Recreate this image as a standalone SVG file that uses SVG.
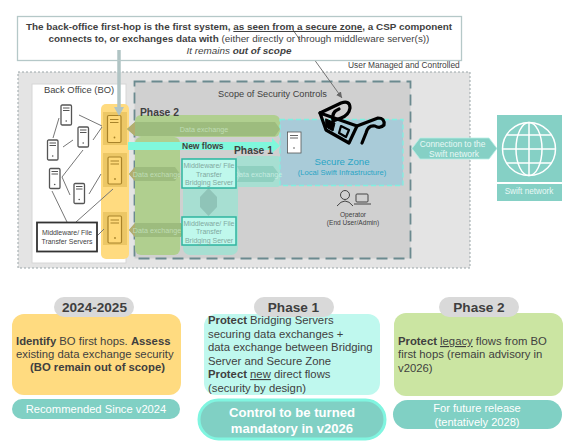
<svg xmlns="http://www.w3.org/2000/svg" width="567" height="447" viewBox="0 0 567 447">
<style>
text{font-family:"Liberation Sans",Arial,sans-serif;fill:#3f3f3f}
.b{font-weight:700}.c{text-anchor:middle}
.srv{fill:#fff;stroke:#555;stroke-width:1.3}
.srvl{stroke:#555;stroke-width:1}
.ysrv{fill:#ffd978;stroke:#a8832a;stroke-width:1.2}
.ysrvl{stroke:#a8832a;stroke-width:1}
.link{stroke:#777;stroke-width:1;fill:none}
.mw{fill:#bff8ec;stroke:#2fb5a0;stroke-width:1.5}
.mwt{fill:#7fa89f;font-size:7px;text-anchor:middle}
.dx2{fill:#bfdcb4;font-size:7.2px;text-anchor:middle}
.card{font-size:11.3px}
.pill{fill:#d9d9d9}
.teal{fill:#80d0c4}
</style>
<defs>
<g id="s"><rect class="srv" x="0" y="0" width="10.5" height="20" rx="1.2"/><path class="srvl" d="M2 3H8.5M2 5.5H8.5"/><circle cx="5.2" cy="16" r=".8" fill="#555"/></g>
<g id="y"><rect class="ysrv" x="0" y="0" width="13.5" height="27" rx="1.2"/><path class="ysrvl" d="M2.5 4H11M2.5 7H11"/><circle cx="7" cy="22" r=".9" fill="#a8832a"/></g>
<marker id="ah" markerWidth="7" markerHeight="7" refX="6" refY="3" orient="auto" markerUnits="userSpaceOnUse"><path d="M0 0L6 3L0 6Z" fill="#666"/></marker>
</defs>
<rect width="567" height="447" fill="#fff"/>

<g id="outer-zone">
<rect x="18" y="72" width="452" height="196" fill="#e4e4e4" stroke="#9aa5a8" stroke-width="1" stroke-dasharray="2 2"/>
<text x="348" y="68" font-size="8.400">User Managed and Controlled</text>
</g>
<g id="back-office">
<rect x="32" y="84" width="94" height="179" fill="#fff" stroke="#d6d6d6"/>
<text x="79" y="93" class="c" font-size="9.400">Back Office (BO)</text>
</g>
<g id="scope">
<rect x="134.500" y="81.500" width="276" height="177" fill="#d0d0d0" stroke="#6b8a8f" stroke-width="1.800" stroke-dasharray="11 6"/>
<text x="272.500" y="97" class="c" font-size="9.200">Scope of Security Controls</text>
</g>
<g id="first-hops">
<rect x="101" y="104" width="28" height="155" rx="5" fill="#ffdb80"/>
<rect x="103" y="112" width="24" height="33" fill="#ecc766"/>
<rect x="103" y="153" width="24" height="34" fill="#ecc766"/>
<rect x="103" y="212" width="24" height="33" fill="#ecc766"/>
<use href="#y" x="107.500" y="115.500"/>
<use href="#y" x="108" y="157"/>
<use href="#y" x="108" y="216"/>
</g>
<g id="phase2-zone">
<rect x="135" y="115" width="145" height="22" rx="6" fill="#b0cf8f"/>
<rect x="135" y="137" width="45" height="118" rx="6" fill="#b0cf8f"/>
<text x="140" y="116" class="b" font-size="10.300">Phase 2</text>
</g>
<g id="phase1-zone">
<rect x="183" y="158" width="55" height="97" rx="7" fill="#a7dfd2"/>
<rect x="236" y="156" width="44" height="31" rx="3" fill="#a7dfd2"/>
<path d="M200 197L208.500 188L217 197V207L208.500 216L200 207Z" fill="#8fc4b8"/>
</g>
<g id="secure-zone">
<rect x="280" y="119.500" width="123" height="66" fill="#a9cbd8" stroke="#80f0e0" stroke-width="1.300" stroke-dasharray="5 3"/>
<rect x="287.500" y="132" width="13.500" height="21" fill="#fff" stroke="#555" stroke-width=".8"/>
<path d="M290 135.500H298M290 138H298" stroke="#555" stroke-width=".9"/><circle cx="294" cy="148" r=".8" fill="#555"/>
<text x="342" y="165" class="c" font-size="9.600" style="fill:#2aa5c5">Secure Zone</text>
<text x="342" y="175" class="c" font-size="7.600" style="fill:#2aa5c5">(Local Swift Infrastructure)</text>
</g>
<g id="connectors">
<path class="link" d="M59 118L53 138M79 115L102 126M93 140L102 127M63 147L73 140M83 150L62 177L70 195M89 194L101 174M52 191L67 222M76 222L113 189M97 236L104 229"/>
<path d="M119 50V108" stroke="#b0c4c4" stroke-width="3.500" fill="none"/>
<path d="M114 107H124L119 116Z" fill="#b0c4c4"/>
<path d="M293 30L342 98" stroke="#666" stroke-width=".9" fill="none" marker-end="url(#ah)"/>
<path d="M127 129L135 122H275L280 129L275 136H135Z" fill="#9dbc7e"/>
<path d="M127 129L135 122V136Z" fill="#b3ad6f"/>
<text x="204" y="132" class="dx2">Data exchange</text>
<path d="M129 174L135 167H175L180 174L175 181H135Z" fill="#9dbc7e"/>
<path d="M129 174L135 167V181Z" fill="#b3ad6f"/>
<text x="157" y="177" class="dx2">Data exchange</text>
<path d="M129 230L135 223H181L186 230L181 237H135Z" fill="#9dbc7e"/>
<path d="M129 230L135 223V237Z" fill="#b3ad6f"/>
<text x="157" y="233" class="dx2">Data exchange</text>
<path d="M237 166H273L279 174L273 182H237L241 174Z" fill="#8fd0c0"/>
<text x="258" y="177" class="dx2" style="fill:#c4ece0">Data exchange</text>
<path d="M128 142H272V138L280 146L272 153V150H128Z" fill="#80f8dc"/>
<text x="182" y="149" class="b" font-size="8.500">New flows</text>
<text x="234" y="154" class="b" font-size="10.300">Phase 1</text>
</g>
<g id="bo-servers">
<use href="#s" x="61" y="105"/>
<use href="#s" x="78" y="127"/>
<use href="#s" x="47.500" y="140"/>
<use href="#s" x="49.500" y="168.500"/>
<use href="#s" x="74" y="183.500"/>
</g>
<g id="bo-middleware">
<rect x="37" y="222.500" width="60" height="29" fill="#fff" stroke="#333" stroke-width="1.800"/>
<text x="67" y="235" class="c" font-size="6.900">Middleware/ File</text>
<text x="67" y="243.500" class="c" font-size="6.900">Transfer Servers</text>
</g>
<g id="bridge-1">
<rect class="mw" x="182" y="159" width="54" height="29"/>
<text class="mwt" x="209" y="168">Middleware/ File</text>
<text class="mwt" x="209" y="176.500">Transfer</text>
<text class="mwt" x="209" y="185">Bridging Server</text>
</g>
<g id="bridge-2">
<rect class="mw" x="182" y="217" width="54" height="28"/>
<text class="mwt" x="209" y="225.500">Middleware/ File</text>
<text class="mwt" x="209" y="234">Transfer</text>
<text class="mwt" x="209" y="242.500">Bridging Server</text>
</g>
<g id="glasses" fill="none" stroke="#000" stroke-width="3.200" stroke-linejoin="round" stroke-linecap="round">
<path d="M320 113L326 130L349 143L357 126Z"/>
<path d="M320 113L341 103Q350 100 350 108Q349 115 341 118L333 121Q331 112 339 109"/>
<path d="M357 126L378 118Q385 118 384 125Q380 129 375 126Q368 125 366 133L362 143"/>
<path d="M326 119L335 123L333 131L326 127Z" fill="#000" stroke-width="1"/>
<path d="M341 126L349 130L346 137L339 133Z" stroke-width="2.200"/>
</g>
<g id="operator" fill="none" stroke="#444" stroke-width="1">
<circle cx="345" cy="195" r="4.500"/>
<path d="M337 206Q341 201 345 201Q349 201 353 206"/>
<rect x="356" y="194" width="12" height="8" rx="1"/>
<path d="M354 204H371"/>
<text x="353" y="217" class="c" font-size="6.600" style="stroke:none">Operator</text>
<text x="353" y="225" class="c" font-size="6.600" style="stroke:none">(End User/Admin)</text>
</g>
<g id="connection">
<path d="M412 148.500L420 138H489L497 148.500L489 159H420Z" fill="#85d0c5" stroke="#b8f0e6" stroke-width=".8"/>
<text x="452.500" y="147" class="c" font-size="8.400" style="fill:#e9f8f5">Connection to the</text>
<text x="454" y="157" class="c" font-size="8.400" style="fill:#e9f8f5">Swift network</text>
</g>
<g id="swift-network">
<rect x="497" y="115" width="65" height="67" fill="#85d0c5"/>
<rect x="497" y="184" width="65" height="17" fill="#85d0c5"/>
<g fill="none" stroke="#fff" stroke-width="1.500">
<circle cx="529" cy="149" r="26.500"/>
<ellipse cx="529" cy="149" rx="13" ry="26.500"/>
<path d="M529 122.500V175.500M502.500 149H555.500M507 135H551M507 163H551"/>
</g>
<text x="529" y="194" class="c" font-size="8.200" style="fill:#e9f8f5">Swift network</text>
</g>
<g id="top-note">
<rect x="17.500" y="16.500" width="444" height="44" fill="#fff" stroke="#b5c8c8" stroke-width="1.300"/>
<path d="M119 50V60" stroke="#b0c4c4" stroke-width="3.500"/>
<path d="M293 30L300 40" stroke="#666" stroke-width=".9"/>
<text x="239" y="30" class="c b" font-size="9.900">The back-office first-hop is the first system, <tspan text-decoration="underline">as seen from a secure zone</tspan>, a CSP component</text>
<text x="239" y="42" class="c" font-size="9.900"><tspan class="b">connects to, or exchanges data with</tspan> (either directly or through middleware server(s))</text>
<text x="239" y="54" class="c" font-size="9.900" font-style="italic">It remains <tspan class="b">out of scope</tspan></text>
</g>
<g id="card-2024">
<rect x="12" y="314" width="169" height="81" rx="12" fill="#ffdb80"/>
<rect class="pill" x="54" y="297" width="80" height="20" rx="10"/>
<text x="94.500" y="311.500" class="c b" font-size="13.600">2024-2025</text>
<text class="card" x="16" y="345"><tspan class="b">Identify</tspan> BO first hops. <tspan class="b">Assess</tspan></text>
<text class="card" x="16" y="358">existing data exchange security</text>
<text class="card b" x="30" y="371">(BO remain out of scope)</text>
<rect class="teal" x="12" y="399" width="168" height="20" rx="10"/>
<text x="96" y="413" class="c" font-size="11.200" style="fill:#fff">Recommended Since v2024</text>
</g>
<g id="card-phase1">
<rect x="204" y="314" width="176" height="81" rx="12" fill="#bff8ee"/>
<rect class="pill" x="254" y="297" width="80" height="20" rx="10"/>
<text x="293.500" y="311.500" class="c b" font-size="13.600">Phase 1</text>
<text class="card" x="208" y="324"><tspan class="b">Protect</tspan> Bridging Servers</text>
<text class="card" x="208" y="338">securing data exchanges +</text>
<text class="card" x="208" y="351">data exchange between Bridging</text>
<text class="card" x="208" y="365">Server and Secure Zone</text>
<text class="card" x="208" y="378"><tspan class="b">Protect</tspan> <tspan text-decoration="underline">new</tspan> direct flows</text>
<text class="card" x="208" y="392">(security by design)</text>
<rect class="teal" x="199" y="400" width="186" height="39" rx="19.500" stroke="#80f5e0" stroke-width="3"/>
<text x="292" y="417" class="c b" font-size="13.100" style="fill:#fff">Control to be turned</text>
<text x="292" y="433" class="c b" font-size="13.100" style="fill:#fff">mandatory in v2026</text>
</g>
<g id="card-phase2">
<rect x="394" y="313" width="169" height="83" rx="12" fill="#cbe5a2"/>
<rect class="pill" x="439" y="297" width="80" height="20" rx="10"/>
<text x="479" y="311.500" class="c b" font-size="13.600">Phase 2</text>
<text class="card" x="398" y="345"><tspan class="b">Protect</tspan> <tspan text-decoration="underline">legacy</tspan> flows from BO</text>
<text class="card" x="398" y="358">first hops (remain advisory in</text>
<text class="card" x="398" y="372">v2026)</text>
<rect class="teal" x="393" y="400" width="169" height="29" rx="14.500"/>
<text x="477" y="412" class="c" font-size="11.100" style="fill:#fff">For future release</text>
<text x="477" y="426" class="c" font-size="11.100" style="fill:#fff">(tentatively 2028)</text>
</g>
</svg>
